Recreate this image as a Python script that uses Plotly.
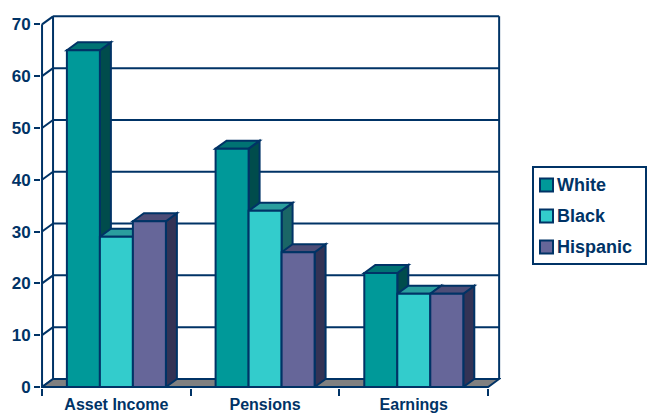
import plotly.graph_objects as go

# ---- data ----
categories = ["Asset Income", "Pensions", "Earnings"]
series_names = ["White", "Black", "Hispanic"]
white = [65, 46, 22]
black = [29, 34, 18]
hispanic = [32, 26, 18]
y_ticks = [0, 10, 20, 30, 40, 50, 60, 70]

series_values = [white, black, hispanic]

# ---- style ----
front_colors = ["#009999", "#33CCCC", "#666699"]
side_colors = ["#004C4C", "#1A6666", "#333355"]
top_colors = ["#007373", "#2A9E9E", "#4D4D77"]
NAVY = "#003366"
FONT = "Liberation Sans, Arial, sans-serif"

W, H = 647, 415
ml, mt, mb = 41, 14, 27
plot_w = 460
mr = W - ml - plot_w
plot_h = H - mt - mb

x_min = -0.507
px_per_x = 148.7
x_max = x_min + plot_w / px_per_x
y_min = -0.2
y_max = 72.0
px_per_y = plot_h / (y_max - y_min)
dx = 11 / px_per_x       # depth offset (x units)
dy = 8 / px_per_y        # depth offset (y units)
bw = 33 / px_per_x       # bar width
n = len(categories)
x_left = -0.5
x_right = n - 0.5
top_val = y_ticks[-1]

fig = go.Figure()
xs = list(range(n))
for s, (name, vals) in enumerate(zip(series_names, series_values)):
    fig.add_trace(go.Bar(
        x=xs, y=vals, name=name, width=bw, offset=(s - 1.5) * bw,
        marker=dict(color=front_colors[s], line=dict(color=NAVY, width=2)),
        showlegend=False, hoverinfo="y+name",
    ))

shapes = []
line = dict(color=NAVY, width=2)
# back wall gridlines and side wall diagonals
for v in y_ticks:
    shapes.append(dict(type="line", xref="x", yref="y", layer="below",
                       x0=x_left + dx, y0=v + dy, x1=x_right + dx, y1=v + dy, line=line))
    shapes.append(dict(type="line", xref="x", yref="y", layer="below",
                       x0=x_left, y0=v, x1=x_left + dx, y1=v + dy, line=line))
# back wall verticals
for xv in (x_left + dx, x_right + dx):
    shapes.append(dict(type="line", xref="x", yref="y", layer="below",
                       x0=xv, y0=dy, x1=xv, y1=top_val + dy, line=line))
# floor
shapes.append(dict(type="path", xref="x", yref="y", layer="below",
                   path=f"M{x_left},0 L{x_right},0 L{x_right + dx},{dy} L{x_left + dx},{dy} Z",
                   fillcolor="#808080", line=line))
# front value axis line
shapes.append(dict(type="line", xref="x", yref="y", layer="below",
                   x0=x_left, y0=0, x1=x_left, y1=top_val, line=line))
# 3D sides and tops of bars
for k in range(n):
    for s, vals in enumerate(series_values):
        h = vals[k]
        x0 = k + (s - 1.5) * bw
        x1 = x0 + bw
        shapes.append(dict(type="path", xref="x", yref="y", layer="below",
                           path=f"M{x1},0 L{x1 + dx},{dy} L{x1 + dx},{h + dy} L{x1},{h} Z",
                           fillcolor=side_colors[s], line=line))
        shapes.append(dict(type="path", xref="x", yref="y", layer="below",
                           path=f"M{x0},{h} L{x0 + dx},{h + dy} L{x1 + dx},{h + dy} L{x1},{h} Z",
                           fillcolor=top_colors[s], line=line))

# manual legend
def px2paper_x(px):
    return (px - ml) / plot_w

def px2paper_y(py):
    return (H - mb - py) / plot_h

leg_left, leg_right, leg_top, leg_bottom = 533, 646, 167, 264
shapes.append(dict(type="rect", xref="paper", yref="paper",
                   x0=px2paper_x(leg_left), x1=px2paper_x(leg_right),
                   y0=px2paper_y(leg_bottom), y1=px2paper_y(leg_top),
                   fillcolor="white", line=line))
annotations = []
item_y = [185, 216, 247]
for s, name in enumerate(series_names):
    cy = item_y[s]
    shapes.append(dict(type="rect", xref="paper", yref="paper",
                       x0=px2paper_x(540), x1=px2paper_x(553),
                       y0=px2paper_y(cy + 6.5), y1=px2paper_y(cy - 6.5),
                       fillcolor=front_colors[s], line=line))
    annotations.append(dict(xref="paper", yref="paper", x=px2paper_x(555), y=px2paper_y(cy),
                            xanchor="left", yanchor="middle", showarrow=False, text=name,
                            font=dict(family=FONT, size=18, color=NAVY, weight="bold")))

fig.update_layout(
    width=W, height=H,
    margin=dict(l=ml, r=mr, t=mt, b=mb, pad=0, autoexpand=False),
    paper_bgcolor="white", plot_bgcolor="white",
    barmode="overlay",
    shapes=shapes, annotations=annotations,
    showlegend=False,
    xaxis=dict(range=[x_min, x_max], tickvals=xs, ticktext=categories, ticks="",
               showgrid=False, zeroline=False, showline=False, automargin=False,
               tickfont=dict(family=FONT, size=16, color=NAVY, weight="bold"),
               ticklabelstandoff=5,
               minor=dict(tick0=-0.5, dtick=1, ticks="outside", ticklen=7, tickwidth=2,
                          tickcolor=NAVY, showgrid=False)),
    yaxis=dict(range=[y_min, y_max], tickvals=y_ticks, ticks="outside", ticklen=6,
               tickwidth=2, tickcolor=NAVY, showgrid=False, zeroline=False, showline=False,
               automargin=False,
               tickfont=dict(family=FONT, size=17, color=NAVY, weight="bold")),
)

fig.write_html("out.html", config={"displayModeBar": False},
               post_script="document.body.style.margin='0';document.body.style.padding='0';")
